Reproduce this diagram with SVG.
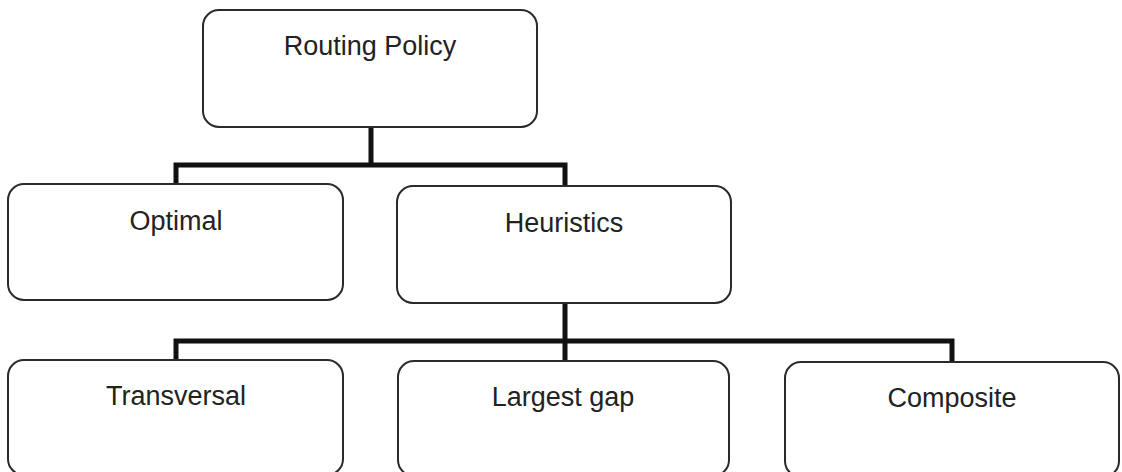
<svg xmlns="http://www.w3.org/2000/svg" width="1122" height="472" viewBox="0 0 1122 472">
  <style>
    .box { fill: #ffffff; stroke: #2a2a2a; stroke-width: 2; }
    .label { font-family: "Liberation Sans", Arial, sans-serif; font-size: 27px; fill: #222222; text-anchor: middle; }
    .link { fill: none; stroke: #111111; stroke-width: 5; stroke-linejoin: miter; stroke-linecap: butt; }
  </style>
  <rect width="1122" height="472" fill="#ffffff"/>

  <!-- tree connectors -->
  <g id="connectors">
    <line class="link" x1="371" y1="127" x2="371" y2="165"/>
    <polyline class="link" points="176,184 176,165 565,165 565,186"/>
    <line class="link" x1="565" y1="303" x2="565" y2="361"/>
    <polyline class="link" points="176,360 176,341 952,341 952,362"/>
  </g>

  <g id="routing-policy">
    <rect class="box" x="203" y="10" width="334" height="117" rx="16"/>
    <text class="label" x="370" y="55">Routing Policy</text>
  </g>

  <g id="optimal">
    <rect class="box" x="8" y="184" width="335" height="116" rx="16"/>
    <text class="label" x="176" y="230">Optimal</text>
  </g>

  <g id="heuristics">
    <rect class="box" x="397" y="186" width="334" height="117" rx="16"/>
    <text class="label" x="564" y="232">Heuristics</text>
  </g>

  <g id="transversal">
    <rect class="box" x="8" y="360" width="335" height="115" rx="16"/>
    <text class="label" x="176" y="405">Transversal</text>
  </g>

  <g id="largest-gap">
    <rect class="box" x="398" y="361" width="331" height="115" rx="16"/>
    <text class="label" x="563" y="406">Largest gap</text>
  </g>

  <g id="composite">
    <rect class="box" x="785" y="362" width="334" height="115" rx="16"/>
    <text class="label" x="952" y="407">Composite</text>
  </g>
</svg>
